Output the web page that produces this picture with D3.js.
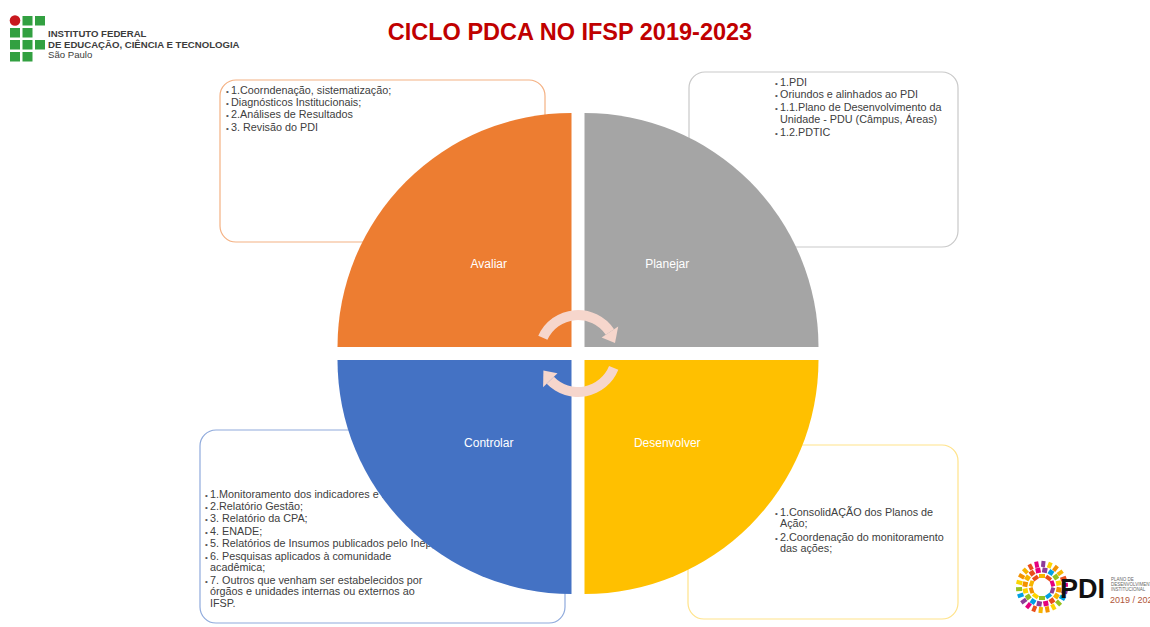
<!DOCTYPE html>
<html>
<head>
<meta charset="utf-8">
<script src="https://cdn.jsdelivr.net/npm/d3@7"></script>
<style>
body { margin: 0; background: #fff; }
svg { display: block; font-family: "Liberation Sans", Arial, sans-serif; }
</style>
</head>
<body>
<div id="graphic"></div>
<script>
// ciclo PDCA - quadrants clockwise from 12 o'clock
var phases = ["Planejar", "Desenvolver", "Controlar", "Avaliar"];
var phaseWeights = [1, 1, 1, 1];
var phaseColors = ["#a5a5a5", "#ffc000", "#4472c4", "#ed7d31"];

var planejarItems = [
  ["1.PDI"],
  ["Oriundos e alinhados ao PDI"],
  ["1.1.Plano de Desenvolvimento da", "Unidade - PDU  (Câmpus, Áreas)"],
  ["1.2.PDTIC"]
];
var desenvolverItems = [
  ["1.ConsolidAÇÃO dos Planos de", "Ação;"],
  ["2.Coordenação do monitoramento", "das ações;"]
];
var controlarItems = [
  ["1.Monitoramento dos indicadores e metas;"],
  ["2.Relatório Gestão;"],
  ["3. Relatório da CPA;"],
  ["4. ENADE;"],
  ["5. Relatórios de Insumos publicados pelo Inep;"],
  ["6. Pesquisas aplicados à comunidade", "acadêmica;"],
  ["7. Outros que venham ser estabelecidos por", "órgãos e unidades internas ou externos ao", "IFSP."]
];
var avaliarItems = [
  ["1.Coorndenação, sistematização;"],
  ["Diagnósticos Institucionais;"],
  ["2.Análises de Resultados"],
  ["3. Revisão do  PDI"]
];

var title = "CICLO PDCA NO IFSP 2019-2023";
var orgLines = ["INSTITUTO FEDERAL", "DE EDUCAÇÃO, CIÊNCIA E TECNOLOGIA", "São Paulo"];
var pdiLines = ["PLANO DE", "DESENVOLVIMENTO", "INSTITUCIONAL"];
var pdiYears = "2019 / 2023";

var width = 1150, height = 627;
var svg = d3.select("#graphic").append("svg").attr("width", width).attr("height", height);

// text boxes behind the circle
var boxes = [
  {items: avaliarItems, x: 220, y: 80, w: 325, h: 162, stroke: "#f4b183", tx: 226, ty: 94, line: 12.2, wrap: 12},
  {items: planejarItems, x: 689, y: 72, w: 269, h: 175, stroke: "#c9c9c9", tx: 775, ty: 85.5, line: 12.8, wrap: 12},
  {items: controlarItems, x: 200, y: 430, w: 365, h: 193, stroke: "#8faadc", tx: 205, ty: 497.5, line: 12.4, wrap: 11.6},
  {items: desenvolverItems, x: 688, y: 445, w: 270, h: 174, stroke: "#ffe38a", tx: 775, ty: 515.5, line: 14, wrap: 11}
];

boxes.forEach(function(b) {
  var g = svg.append("g");
  g.append("rect").attr("x", b.x).attr("y", b.y).attr("width", b.w).attr("height", b.h)
    .attr("rx", 16).attr("fill", "#fff").attr("stroke", b.stroke).attr("stroke-width", 1.2);
  var y = b.ty;
  b.items.forEach(function(item) {
    g.append("text").attr("x", b.tx).attr("y", y).attr("font-size", 8).attr("fill", "#555").text("•");
    item.forEach(function(ln, k) {
      if (k > 0) y += b.wrap;
      g.append("text").attr("x", b.tx + 5).attr("y", y).attr("font-size", 10.8).attr("fill", "#404040").text(ln);
    });
    y += b.line;
  });
});

// quadrants
var R = 234, gap = 6.5, cx = 578, cy = 353.5;
var arc = d3.arc().innerRadius(0).outerRadius(R);
var slices = d3.pie().sort(null).value(function(d) { return d; })(phaseWeights);

slices.forEach(function(p, i) {
  var mid = (p.startAngle + p.endAngle) / 2;
  var ox = Math.sign(Math.sin(mid)) * gap, oy = -Math.sign(Math.cos(mid)) * gap;
  var g = svg.append("g").attr("transform", "translate(" + (cx + ox) + "," + (cy + oy) + ")");
  g.append("path").attr("d", arc(p)).attr("fill", phaseColors[i]);
  var c = arc.centroid(p);
  g.append("text").attr("x", c[0]).attr("y", c[1]).attr("dy", "0.35em")
    .attr("text-anchor", "middle").attr("font-size", 12).attr("fill", "#fff").text(phases[i]);
});

// circular arrows in the middle
var deg = Math.PI / 180;
var arrowArc = d3.arc().innerRadius(33.5).outerRadius(43.5);
var arrows = [[-66, 56, 74], [112, 226, 244]];
var ag = svg.append("g").attr("transform", "translate(" + cx + "," + cy + ")");
function pt(r, a) { return [r * Math.sin(a * deg), -r * Math.cos(a * deg)]; }
arrows.forEach(function(a) {
  ag.append("path").attr("d", arrowArc({startAngle: a[0] * deg, endAngle: a[1] * deg})).attr("fill", "#f6d6cc");
  ag.append("path").attr("d", d3.line()([pt(28.5, a[1]), pt(48.5, a[1]), pt(38.5, a[2])]) + "Z").attr("fill", "#f6d6cc");
});

// title
svg.append("text").attr("x", 570).attr("y", 40).attr("text-anchor", "middle")
  .attr("font-size", 23.5).attr("font-weight", "bold").attr("fill", "#c00000").text(title);

// IF logo
var logoCells = [[0, 0, 1], [1, 0, 0], [2, 0, 0], [0, 1, 0], [1, 1, 0], [0, 2, 0], [1, 2, 0], [2, 2, 0], [0, 3, 0], [1, 3, 0]];
logoCells.forEach(function(c) {
  if (c[2]) {
    svg.append("circle").attr("cx", 15).attr("cy", 20.5).attr("r", 5.3).attr("fill", "#c8191e");
  } else {
    svg.append("rect").attr("x", 10 + c[0] * 12.5).attr("y", 16 + c[1] * 12).attr("width", 10).attr("height", 9.5).attr("fill", "#32a041");
  }
});
orgLines.forEach(function(t, i) {
  svg.append("text").attr("x", 48).attr("y", 37 + i * 10.5).attr("font-size", 9.6)
    .attr("font-weight", i < 2 ? "bold" : "normal").attr("fill", "#3c3c3c").text(t);
});

// PDI logo
var confettiColors = ["#f7b500", "#e94e1b", "#e5007e", "#8e3c97", "#00a0e3", "#95c11f", "#fdd400", "#f39200"];
var pg = svg.append("g").attr("transform", "translate(1042,587)");
[11, 17.5, 24].forEach(function(r, ri) {
  var n = 10 + ri * 6;
  d3.range(n).forEach(function(k) {
    var a = k * 360 / n + ri * 11;
    var p = pt(r, a);
    pg.append("rect").attr("x", -3).attr("y", -2).attr("width", 6 - ri).attr("height", 4 + ri)
      .attr("transform", "translate(" + p[0] + "," + p[1] + ") rotate(" + a + ")")
      .attr("fill", confettiColors[(k + ri * 3) % confettiColors.length]);
  });
});
svg.append("text").attr("x", 1060).attr("y", 598).attr("font-size", 27).attr("font-weight", "bold")
  .attr("fill", "#111").text("PDI");
pdiLines.forEach(function(t, i) {
  svg.append("text").attr("x", 1111).attr("y", 581 + i * 5).attr("font-size", 4.5).attr("fill", "#666").text(t);
});
svg.append("text").attr("x", 1110).attr("y", 603).attr("font-size", 9).attr("fill", "#b0563a").text(pdiYears);
</script>
</body>
</html>
